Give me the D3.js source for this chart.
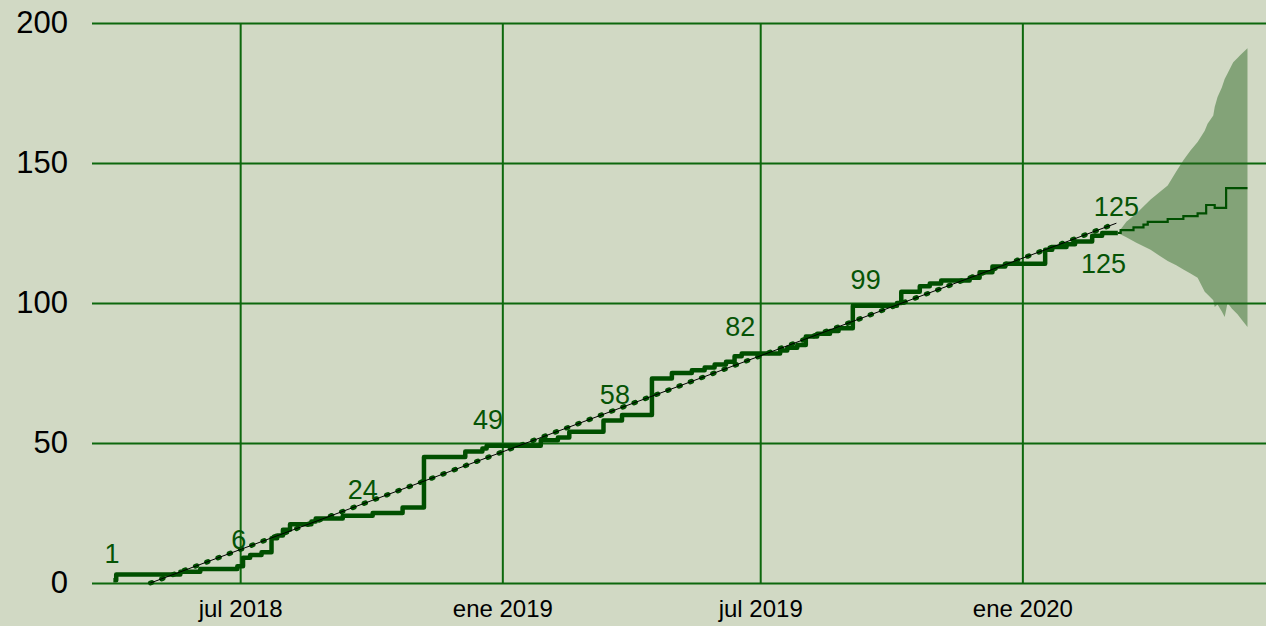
<!DOCTYPE html>
<html>
<head>
<meta charset="utf-8">
<script src="https://cdn.jsdelivr.net/npm/d3@7"></script>
<style>
  body { margin: 0; background: #d1d9c4; }
  svg { display: block; font-family: "Liberation Sans", Arial, sans-serif; }
</style>
</head>
<body>
<script>
// cumulative count (step line)
const stepDates = ["2018-04-03","2018-04-05","2018-05-20","2018-06-03","2018-06-29","2018-07-03","2018-07-08","2018-07-16",
  "2018-07-23","2018-07-27","2018-07-31","2018-08-05","2018-08-20","2018-08-23","2018-09-11","2018-10-02","2018-10-23",
  "2018-11-07","2018-12-06","2018-12-18","2018-12-21","2019-01-28","2019-02-09","2019-02-17","2019-03-13","2019-03-26",
  "2019-04-16","2019-04-30","2019-05-14","2019-05-23","2019-05-30","2019-06-07","2019-06-13","2019-06-18","2019-07-15",
  "2019-07-20","2019-07-27","2019-08-02","2019-08-10","2019-08-19","2019-08-25","2019-09-04","2019-10-05","2019-10-08",
  "2019-10-21","2019-10-28","2019-11-05","2019-11-25","2019-12-02","2019-12-11","2019-12-20","2020-01-17","2020-01-22",
  "2020-02-01","2020-02-07","2020-02-19","2020-02-26","2020-03-08"]
const stepValues = [1,3,4,5,6,9,10,11,16,17,19,21,22,23,24,25,27,45,47,48,49,51,52,54,58,60,73,75,76,77,78,79,81,82,83,
  84,85,88,89,90,91,99,100,104,106,107,108,109,111,113,114,119,120,121,122,124,125,125]

// forecast
const fcDates = ["2020-03-08","2020-03-10","2020-03-19","2020-03-26","2020-03-29","2020-04-12","2020-04-23","2020-05-03",
  "2020-05-09","2020-05-15","2020-05-23","2020-06-07"]
const fcValues = [125,126,127,128,129,130,131,132,135,134,141,141]

// forecast band
const bandDates = ["2020-03-08","2020-03-14","2020-03-21","2020-03-31","2020-04-06","2020-04-12","2020-04-18","2020-04-23",
  "2020-04-28","2020-05-03","2020-05-08","2020-05-10","2020-05-14","2020-05-15","2020-05-17","2020-05-20","2020-05-22",
  "2020-05-24","2020-05-27","2020-05-28","2020-05-31","2020-06-02","2020-06-07"]
const bandLow  = [125,123.5,121.5,119,117,115,113.5,112,110.5,109,104,103,101,98.6,99.5,97,95,100,98,97.5,96,94.6,91.4]
const bandHigh = [125,129,132,137,139.5,142,147,151,154.5,157.5,161.5,164,167,170,173.6,177,180,182,185,186,187.5,188.6,191]

// trend line
const trendDates = ["2018-04-29","2020-03-07"]
const trendValues = [0,128.5]

// annotations
const labelDates = ["2018-04-02","2018-06-30","2018-09-25","2018-12-22","2019-03-21","2019-06-17","2019-09-13","2020-03-07","2020-02-27"]
const labelValues = [1,6,24,49,58,82,99,125,125]

const yTicks = [0,50,100,150,200]
const xTickDates = ["2018-07-01","2019-01-01","2019-07-01","2020-01-01"]

const parse = d3.timeParse("%Y-%m-%d")
const es = d3.timeFormatLocale({
  dateTime: "%x, %X", date: "%d/%m/%Y", time: "%-H:%M:%S", periods: ["AM","PM"],
  days: ["domingo","lunes","martes","miércoles","jueves","viernes","sábado"],
  shortDays: ["dom","lun","mar","mié","jue","vie","sáb"],
  months: ["enero","febrero","marzo","abril","mayo","junio","julio","agosto","septiembre","octubre","noviembre","diciembre"],
  shortMonths: ["ene","feb","mar","abr","may","jun","jul","ago","sep","oct","nov","dic"]
})

const width = 1266, height = 626
const margin = {top: 23, right: 0, bottom: 43, left: 92}

const svg = d3.select("body").append("svg")
  .attr("width", width)
  .attr("height", height)

svg.append("rect").attr("width", width).attr("height", height).attr("fill", "#d1d9c4")

const x = d3.scaleTime()
  .domain([parse("2018-03-19"), parse("2020-06-20")])
  .range([margin.left, width - margin.right])

const y = d3.scaleLinear()
  .domain([0, 200])
  .range([height - margin.bottom, margin.top])

const gridColor = "#0d680d"
const lineColor = "#004f00"

// y axis + horizontal grid
svg.append("g")
  .attr("transform", `translate(${margin.left},0)`)
  .call(d3.axisLeft(y).tickValues(yTicks).tickSize(-(width - margin.left - margin.right)).tickPadding(24))
  .call(g => g.select(".domain").remove())
  .call(g => g.selectAll(".tick line").attr("stroke", gridColor).attr("stroke-width", 2))
  .call(g => g.selectAll(".tick text").attr("fill", "#000").attr("font-size", 31).attr("font-family", "Liberation Sans, Arial, sans-serif"))

// x axis + vertical grid
svg.append("g")
  .attr("transform", `translate(0,${height - margin.bottom})`)
  .call(d3.axisBottom(x).tickValues(xTickDates.map(parse))
    .tickFormat(es.format("%b %Y"))
    .tickSize(-(height - margin.bottom - margin.top)).tickPadding(17))
  .call(g => g.select(".domain").remove())
  .call(g => g.selectAll(".tick line").attr("stroke", gridColor).attr("stroke-width", 2))
  .call(g => g.selectAll(".tick text").attr("fill", "#000").attr("font-size", 24).attr("font-family", "Liberation Sans, Arial, sans-serif"))

// forecast band
const band = bandDates.map((d, i) => ({date: parse(d), lo: bandLow[i], hi: bandHigh[i]}))
svg.append("path")
  .attr("d", d3.area().x(d => x(d.date)).y0(d => y(d.lo)).y1(d => y(d.hi))(band))
  .attr("fill", "rgb(40,100,30)")
  .attr("fill-opacity", 0.46)

// step line
const steps = stepDates.map((d, i) => ({date: parse(d), v: stepValues[i]}))
svg.append("path")
  .attr("d", d3.line().x(d => x(d.date)).y(d => y(d.v)).curve(d3.curveStepAfter)(steps))
  .attr("fill", "none")
  .attr("stroke", lineColor)
  .attr("stroke-width", 4.5)
  .attr("stroke-linejoin", "round")

// forecast line
const fc = fcDates.map((d, i) => ({date: parse(d), v: fcValues[i]}))
svg.append("path")
  .attr("d", d3.line().x(d => x(d.date)).y(d => y(d.v)).curve(d3.curveStepAfter)(fc))
  .attr("fill", "none")
  .attr("stroke", lineColor)
  .attr("stroke-width", 2.2)

// trend: green dots + thin black line
const trend = trendDates.map((d, i) => ({date: parse(d), v: trendValues[i]}))
const trendLine = d3.line().x(d => x(d.date)).y(d => y(d.v))
svg.append("path")
  .attr("d", trendLine(trend))
  .attr("fill", "none")
  .attr("stroke", lineColor)
  .attr("stroke-width", 5)
  .attr("stroke-linecap", "round")
  .attr("stroke-dasharray", "1.5 10.5")
svg.append("path")
  .attr("d", trendLine(trend))
  .attr("fill", "none")
  .attr("stroke", "#000")
  .attr("stroke-width", 1)

// annotations
svg.selectAll(".lbl")
  .data(labelDates.map((d, i) => ({date: parse(d), v: labelValues[i], below: i == labelDates.length - 1})))
  .join("text")
  .attr("class", "lbl")
  .attr("x", d => x(d.date))
  .attr("y", d => y(d.v) + (d.below ? 40 : -17))
  .attr("text-anchor", "middle")
  .attr("font-size", 27)
  .attr("fill", "#065406")
  .text(d => d.v)
</script>
</body>
</html>
